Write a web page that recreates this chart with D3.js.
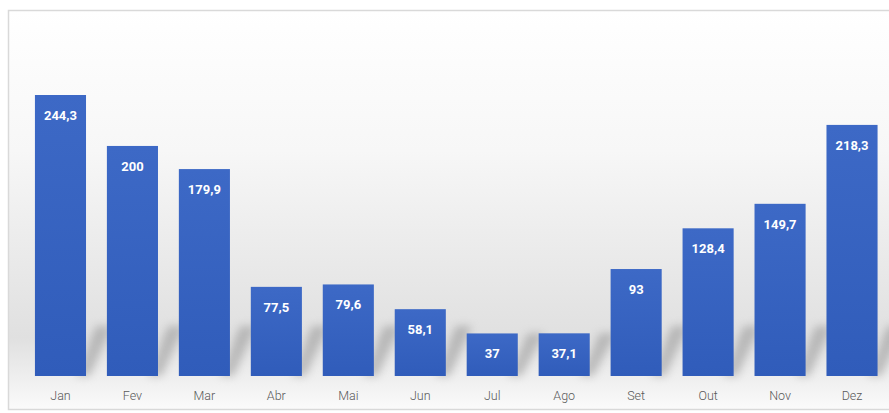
<!DOCTYPE html>
<html>
<head>
<meta charset="utf-8">
<script src="https://cdn.jsdelivr.net/npm/d3@7"></script>
<style>
  body { margin: 0; background: #ffffff; }
  svg { display: block; }
</style>
</head>
<body>
<svg id="chart"></svg>
<script>
// months (pt-BR) and monthly values
const months = ["Jan", "Fev", "Mar", "Abr", "Mai", "Jun", "Jul", "Ago", "Set", "Out", "Nov", "Dez"];
const values = [244.3, 200, 179.9, 77.5, 79.6, 58.1, 37, 37.1, 93, 128.4, 149.7, 218.3];
const labels = ["244,3", "200", "179,9", "77,5", "79,6", "58,1", "37", "37,1", "93", "128,4", "149,7", "218,3"];

const W = 889, H = 413;
const plotBottom = 376;

const svg = d3.select('#chart')
              .attr('width', W)
              .attr('height', H);

const defs = svg.append('defs');

// background gradient: white at top, gray toward the base
const bg = defs.append('linearGradient')
               .attr('id', 'bg')
               .attr('x1', 0).attr('y1', 0).attr('x2', 0).attr('y2', 1);
bg.append('stop').attr('offset', '0%').attr('stop-color', '#ffffff');
bg.append('stop').attr('offset', '35%').attr('stop-color', '#f7f7f7');
bg.append('stop').attr('offset', '82%').attr('stop-color', '#e0e0e0');
bg.append('stop').attr('offset', '93%').attr('stop-color', '#f0f0f0');
bg.append('stop').attr('offset', '100%').attr('stop-color', '#fbfbfb');

const barGrad = defs.append('linearGradient')
                    .attr('id', 'barGrad')
                    .attr('x1', 0).attr('y1', 0).attr('x2', 0).attr('y2', 1);
barGrad.append('stop').attr('offset', '0%').attr('stop-color', '#3d69c6');
barGrad.append('stop').attr('offset', '100%').attr('stop-color', '#305cba');

defs.append('filter')
    .attr('id', 'blur')
    .attr('x', '-50%').attr('y', '-50%').attr('width', '200%').attr('height', '200%')
    .append('feGaussianBlur')
    .attr('stdDeviation', 4);

// frame
svg.append('rect')
   .attr('x', 8.5).attr('y', 10.5)
   .attr('width', W + 10).attr('height', 399)
   .attr('fill', 'url(#bg)')
   .attr('stroke', '#d9d9d9')
   .attr('stroke-width', 1.5);

const xScale = d3.scaleBand()
                 .domain(months)
                 .range([24.5, 888])
                 .paddingInner(0.29)
                 .paddingOuter(0.145);

const yScale = d3.scaleLinear()
                 .domain([0, 244.3])
                 .range([plotBottom, 95]);

const g = svg.append('g');

// soft diagonal shadows behind the bars
g.selectAll('path.shadow')
 .data(values)
 .enter()
 .append('path')
 .attr('class', 'shadow')
 .attr('d', (d, i) => {
     const x1 = xScale(months[i]) + xScale.bandwidth();
     const h = Math.min(plotBottom - yScale(d), 50);
     return `M${x1 - 10},${plotBottom} L${x1 + 4},${plotBottom} L${x1 + 26},${plotBottom - h} L${x1 + 10},${plotBottom - h} Z`;
 })
 .attr('fill', '#8f8f8f')
 .attr('opacity', 0.5)
 .attr('filter', 'url(#blur)');

// bars
g.selectAll('rect.bar')
 .data(values)
 .enter()
 .append('rect')
 .attr('class', 'bar')
 .attr('x', (d, i) => xScale(months[i]))
 .attr('y', d => yScale(d))
 .attr('width', xScale.bandwidth())
 .attr('height', d => plotBottom - yScale(d))
 .attr('fill', 'url(#barGrad)');

// value labels inside bar tops
g.selectAll('text.val')
 .data(values)
 .enter()
 .append('text')
 .attr('class', 'val')
 .attr('x', (d, i) => xScale(months[i]) + xScale.bandwidth() / 2)
 .attr('y', d => yScale(d) + 25)
 .attr('text-anchor', 'middle')
 .style('font-family', 'Roboto, "Liberation Sans", sans-serif')
 .style('font-weight', 'bold')
 .style('font-size', '13px')
 .style('fill', '#ffffff')
 .text((d, i) => labels[i]);

// x axis labels
const xAxis = svg.append('g')
   .attr('transform', `translate(0,${plotBottom})`)
   .call(d3.axisBottom(xScale).tickSize(0).tickPadding(15));
xAxis.select('.domain').remove();
xAxis.selectAll('text')
     .style('font-family', 'Roboto, "Liberation Sans", sans-serif')
     .style('font-weight', '300')
     .style('font-size', '12.5px')
     .style('fill', '#595959');
</script>
</body>
</html>
